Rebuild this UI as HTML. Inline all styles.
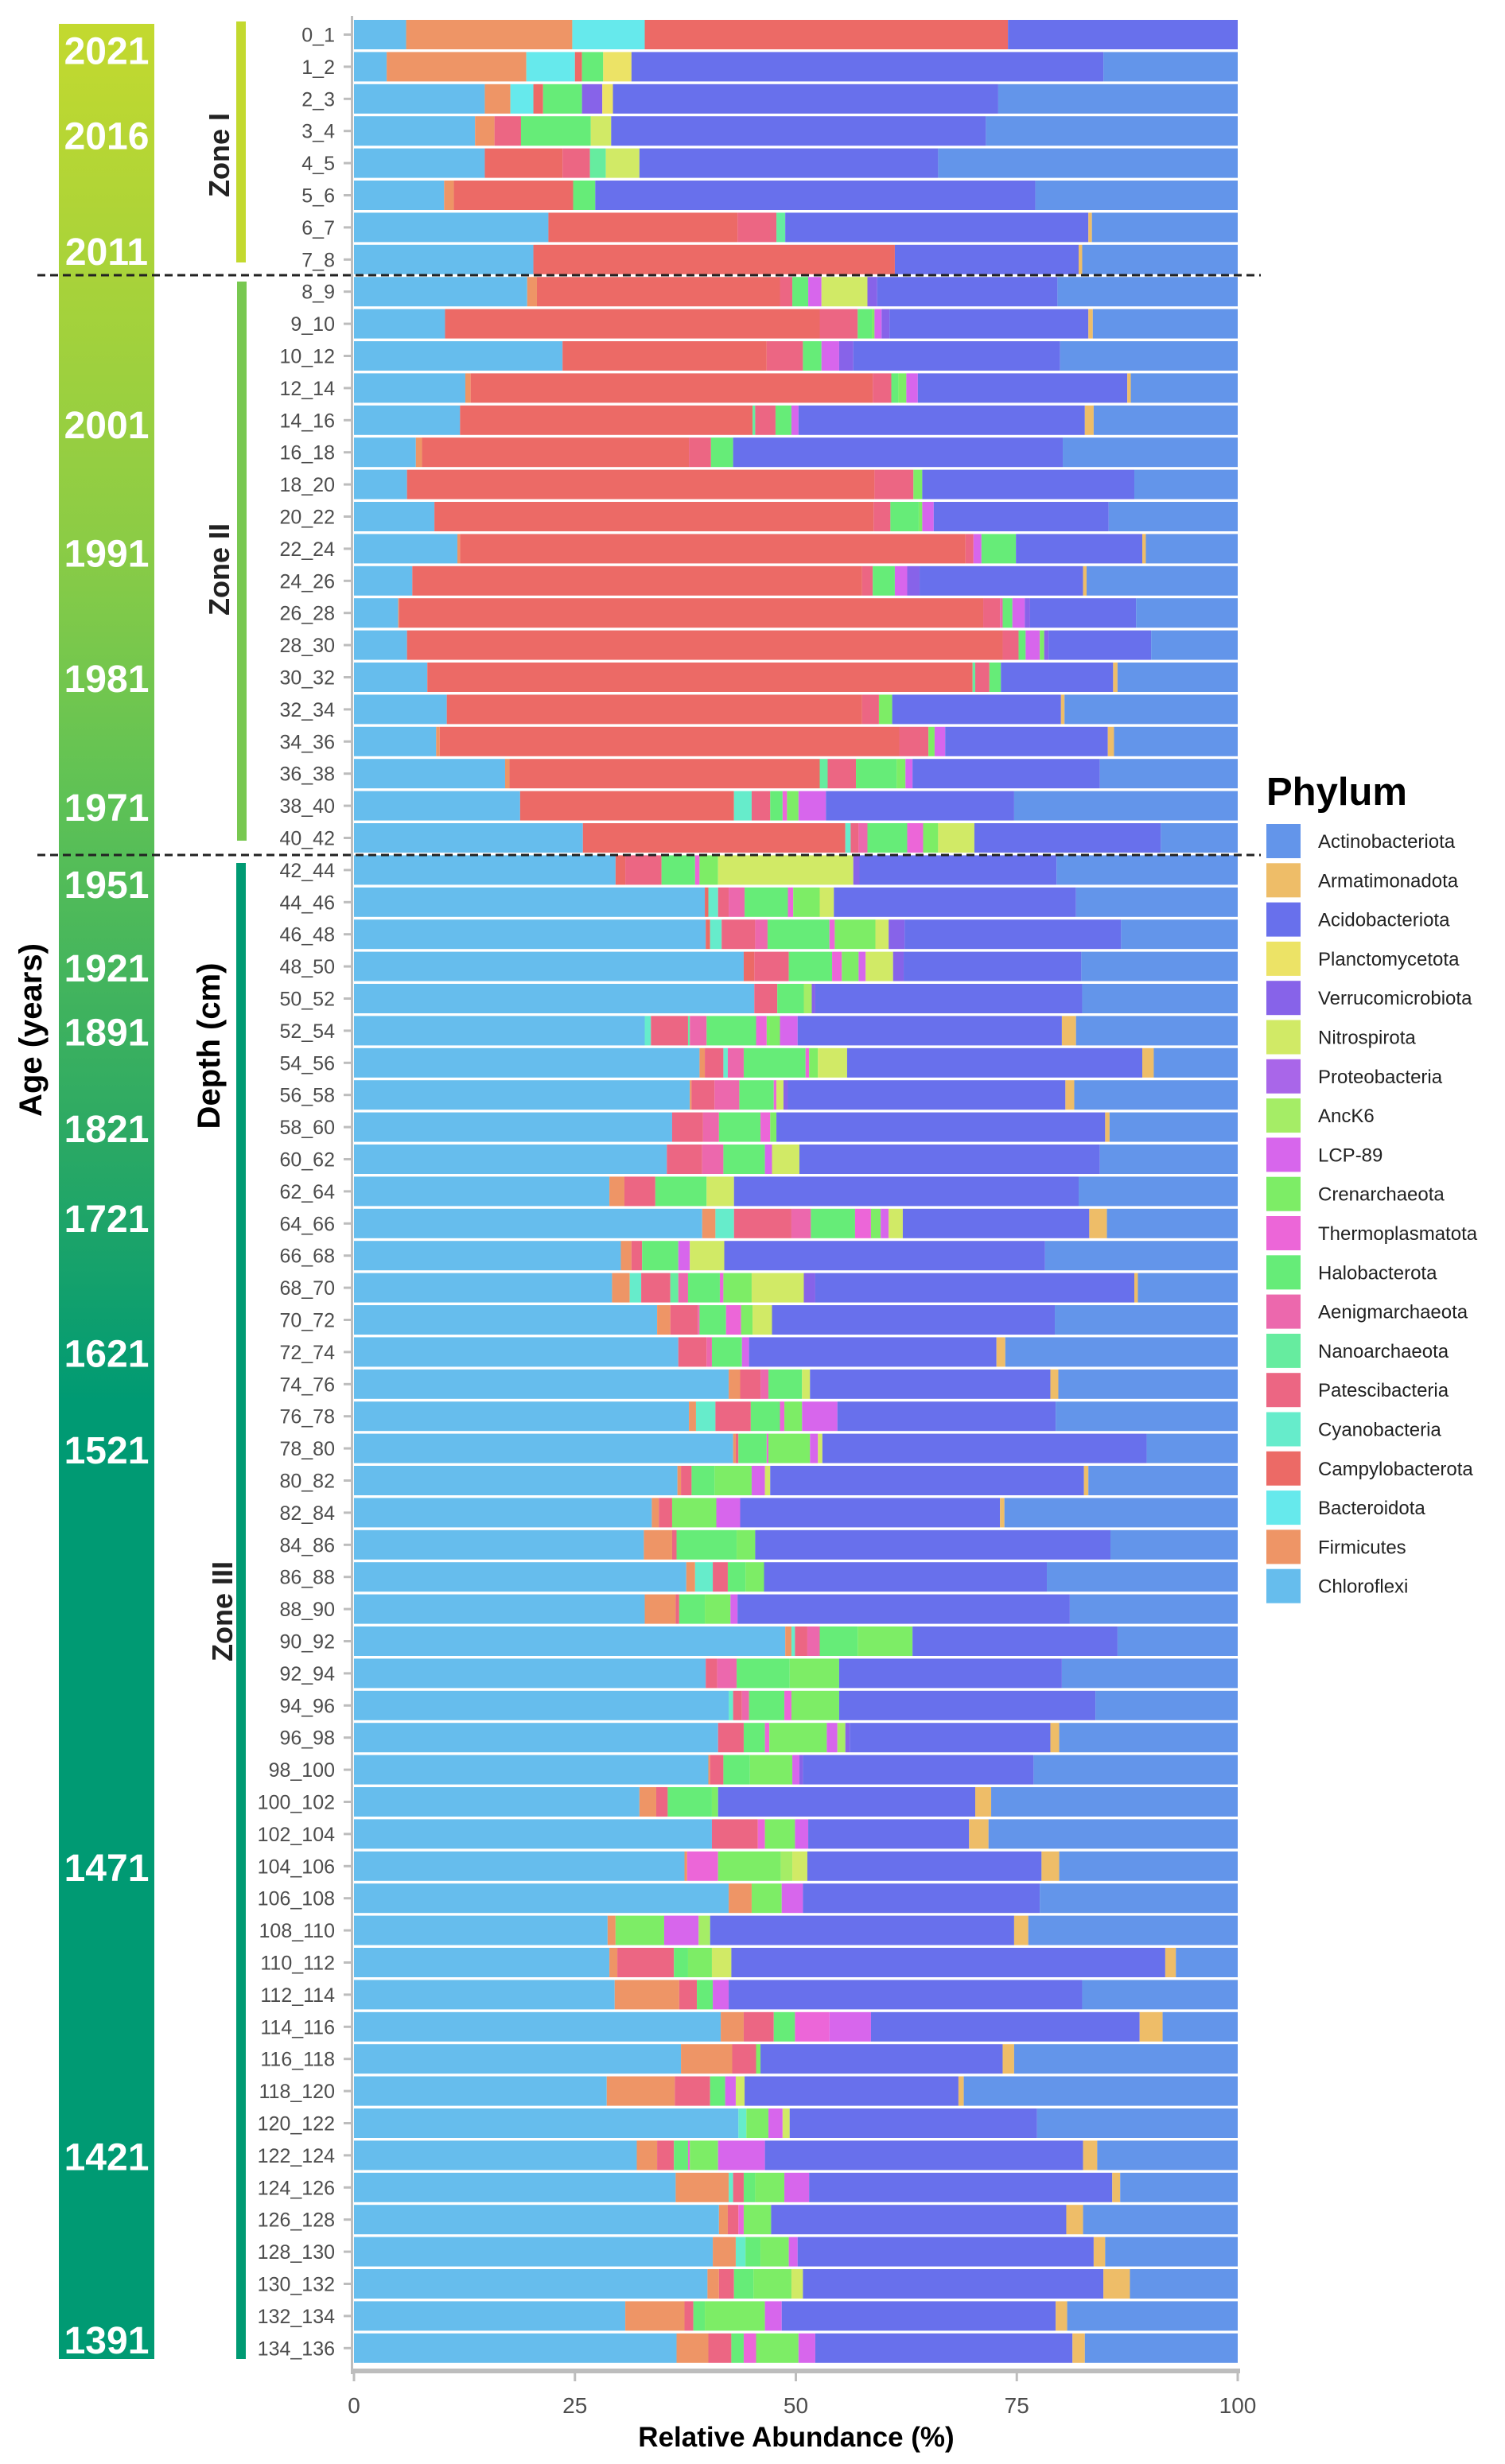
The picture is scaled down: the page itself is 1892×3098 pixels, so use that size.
<!DOCTYPE html>
<html><head><meta charset="utf-8"><style>
html,body{margin:0;padding:0;background:#fff;}
svg{display:block;font-family:"Liberation Sans",sans-serif;}
</style></head><body>
<svg id="chart" width="1892" height="3098" viewBox="0 0 1892 3098" xmlns="http://www.w3.org/2000/svg">
<defs>
<linearGradient id="ageGrad" x1="0" y1="30" x2="0" y2="2966" gradientUnits="userSpaceOnUse">
<stop offset="0" stop-color="#c3d92f"/>
<stop offset="0.22" stop-color="#8ccc45"/>
<stop offset="0.33" stop-color="#5fc255"/>
<stop offset="0.47" stop-color="#2eaa63"/>
<stop offset="0.59" stop-color="#009a73"/>
<stop offset="1" stop-color="#009a73"/>
</linearGradient>
</defs>
<rect x="74" y="30" width="120" height="2936" fill="url(#ageGrad)"/>
<g id="ageLabels"></g>
<text transform="translate(52,1295) rotate(-90)" text-anchor="middle" font-size="40" font-weight="bold" fill="#000">Age (years)</text>
<text transform="translate(276,1315) rotate(-90)" text-anchor="middle" font-size="40" font-weight="bold" fill="#000">Depth (cm)</text>
<rect x="297" y="27" width="12" height="303" fill="#c3d92f"/>
<rect x="298" y="354" width="12" height="703" fill="#78c850"/>
<rect x="297" y="1085" width="12" height="1881" fill="#009a73"/>
<text transform="translate(288,195) rotate(-90)" text-anchor="middle" font-size="36" font-weight="bold" fill="#222">Zone I</text>
<text transform="translate(288,716) rotate(-90)" text-anchor="middle" font-size="36" font-weight="bold" fill="#222">Zone II</text>
<text transform="translate(292,2026) rotate(-90)" text-anchor="middle" font-size="36" font-weight="bold" fill="#222">Zone III</text>
<g id="bars"></g>
<g id="yaxis"></g>
<g id="xaxis"></g>
<line x1="47" y1="346" x2="1585" y2="346" stroke="#222" stroke-width="3" stroke-dasharray="10,6"/>
<line x1="47" y1="1075" x2="1585" y2="1075" stroke="#222" stroke-width="3" stroke-dasharray="10,6"/>
<text x="1001" y="3076" text-anchor="middle" font-size="35" font-weight="bold" fill="#000">Relative Abundance (%)</text>
<g id="legend"></g>
</svg>
<script>
const phyla = ["Chloroflexi","Firmicutes","Bacteroidota","Campylobacterota","Cyanobacteria","Patescibacteria","Nanoarchaeota","Aenigmarchaeota","Halobacterota","Thermoplasmatota","Crenarchaeota","LCP-89","AncK6","Proteobacteria","Nitrospirota","Verrucomicrobiota","Planctomycetota","Acidobacteriota","Armatimonadota","Actinobacteriota"];
const codes = ["Chl","Fir","Bac","Cam","Cya","Pat","Nan","Aen","Hal","The","Cre","LCP","Anc","Pro","Nit","Ver","Pla","Aci","Arm","Act"];
const colors = ["#66bded","#ee9566","#66e9ec","#ec6a66","#66eccb","#ec6683","#66ec9f","#ec68ad","#66ec78","#ec66d8","#7ded66","#d766ec","#a5ed66","#a966e9","#d1ea66","#8763e9","#ece366","#6870ec","#eebd68","#6395ea"];
const depths = ["0_1","1_2","2_3","3_4","4_5","5_6","6_7","7_8","8_9","9_10","10_12","12_14","14_16","16_18","18_20","20_22","22_24","24_26","26_28","28_30","30_32","32_34","34_36","36_38","38_40","40_42","42_44","44_46","46_48","48_50","50_52","52_54","54_56","56_58","58_60","60_62","62_64","64_66","66_68","68_70","70_72","72_74","74_76","76_78","78_80","80_82","82_84","84_86","86_88","88_90","90_92","92_94","94_96","96_98","98_100","100_102","102_104","104_106","106_108","108_110","110_112","112_114","114_116","116_118","118_120","120_122","122_124","124_126","126_128","128_130","130_132","132_134","134_136"];
// cumulative right edge (%) of each phylum segment, per sample
const cumulative = [
"Chl:5.9 Fir:24.7 Bac:32.9 Cam:74.0 Aci:100",
"Chl:3.7 Fir:19.5 Bac:25.0 Cam:25.8 Hal:28.2 Pla:31.4 Aci:84.8 Act:100",
"Chl:14.8 Fir:17.7 Bac:20.3 Cam:21.4 Hal:25.8 Ver:28.1 Pla:29.3 Aci:72.9 Act:100",
"Chl:13.7 Fir:15.9 Pat:18.9 Hal:26.8 Nit:29.1 Aci:71.5 Act:100",
"Chl:14.8 Cam:23.6 Pat:26.7 Nan:28.5 Nit:32.3 Aci:66.1 Act:100",
"Chl:10.2 Fir:11.3 Cam:24.8 Hal:27.3 Aci:77.1 Act:100",
"Chl:22.0 Cam:43.4 Pat:47.8 Nan:48.8 Aci:83.1 Arm:83.5 Act:100",
"Chl:20.3 Cam:61.2 Aci:82.0 Arm:82.4 Act:100",
"Chl:19.6 Fir:20.7 Cam:48.2 Pat:49.6 Hal:51.4 LCP:52.9 Nit:58.1 Ver:59.2 Aci:79.6 Act:100",
"Chl:10.3 Cam:52.7 Pat:57.0 Hal:58.6 Cre:58.9 LCP:59.7 Ver:60.6 Aci:83.1 Arm:83.6 Act:100",
"Chl:23.6 Cam:46.7 Pat:50.8 Hal:52.9 LCP:54.9 Ver:56.5 Aci:79.9 Act:100",
"Chl:12.6 Fir:13.2 Cam:58.7 Pat:60.8 Hal:61.6 Cre:62.5 LCP:63.8 Aci:87.5 Arm:87.9 Act:100",
"Chl:12.0 Cam:45.1 Nan:45.4 Pat:47.7 Hal:49.5 LCP:50.3 Aci:82.7 Arm:83.7 Act:100",
"Chl:7.0 Fir:7.7 Cam:37.9 Pat:40.4 Hal:42.9 Aci:80.2 Act:100",
"Chl:6.0 Cam:58.9 Pat:63.3 Cre:64.3 Aci:88.3 Act:100",
"Chl:9.1 Cam:58.8 Pat:60.7 Hal:63.9 Cre:64.3 LCP:65.6 Aci:85.4 Act:100",
"Chl:11.7 Fir:12.0 Cam:69.2 Pat:70.1 LCP:71.0 Hal:74.9 Aci:89.2 Arm:89.6 Act:100",
"Chl:6.6 Cam:57.5 Pat:58.7 Hal:61.2 LCP:62.6 Ver:64.0 Aci:82.5 Arm:82.9 Act:100",
"Chl:5.0 Fir:5.1 Cam:71.2 Pat:73.1 Aen:73.4 Hal:74.5 LCP:75.9 Ver:76.5 Aci:88.5 Act:100",
"Chl:6.0 Cam:73.4 Pat:75.2 Hal:76.0 LCP:77.6 Cre:78.1 Ver:78.6 Aci:90.2 Act:100",
"Chl:8.3 Cam:70.0 Nan:70.3 Pat:71.9 Hal:73.2 Aci:85.9 Arm:86.4 Act:100",
"Chl:10.5 Cam:57.5 Pat:59.4 Cre:60.9 Aci:80.0 Arm:80.4 Act:100",
"Chl:9.3 Fir:9.7 Cam:61.7 Pat:65.0 Cre:65.7 LCP:66.9 Aci:85.3 Arm:86.0 Act:100",
"Chl:17.1 Fir:17.6 Cam:52.7 Nan:53.6 Pat:56.8 Hal:61.4 Cre:62.4 LCP:63.2 Aci:84.4 Act:100",
"Chl:18.8 Cam:43.0 Cya:45.0 Pat:47.1 Hal:48.5 The:49.0 Cre:50.3 LCP:53.4 Aci:74.7 Act:100",
"Chl:25.9 Cam:55.6 Cya:56.2 Pat:57.1 Aen:58.1 Hal:62.6 The:64.4 Cre:66.1 Nit:70.2 Aci:91.3 Act:100",
"Chl:29.6 Cam:30.7 Pat:34.8 Hal:38.6 The:39.1 Cre:41.2 Nit:56.5 Ver:57.2 Aci:79.5 Act:100",
"Chl:39.7 Cam:40.1 Cya:41.2 Pat:42.4 Aen:44.2 Hal:49.1 The:49.7 Cre:52.7 Nit:54.3 Aci:81.7 Act:100",
"Chl:39.8 Cam:40.3 Cya:41.6 Pat:45.4 Aen:46.8 Hal:53.8 The:54.4 Cre:59.0 Nit:60.5 Ver:62.3 Aci:86.8 Act:100",
"Chl:44.1 Cam:45.3 Pat:49.2 Hal:54.1 The:55.2 Cre:57.1 LCP:57.9 Nit:61.0 Ver:62.2 Aci:82.3 Act:100",
"Chl:45.3 Pat:47.9 Hal:50.9 Anc:51.8 Ver:52.2 Aci:82.4 Act:100",
"Chl:32.9 Cya:33.6 Pat:37.8 Nan:38.0 Aen:39.9 Hal:45.5 The:46.7 Cre:48.2 LCP:50.2 Aci:80.1 Arm:81.7 Act:100",
"Chl:39.1 Fir:39.7 Pat:41.8 Cya:42.3 Aen:44.1 Hal:51.1 The:51.5 Cre:52.5 Nit:55.8 Aci:89.2 Arm:90.5 Act:100",
"Chl:38.0 Fir:38.2 Pat:40.8 Aen:43.6 Hal:47.5 The:47.8 Nit:48.6 Ver:49.1 Aci:80.5 Arm:81.5 Act:100",
"Chl:36.0 Pat:39.5 Aen:41.3 Hal:46.0 The:47.1 Cre:47.8 Aci:85.0 Arm:85.5 Act:100",
"Chl:35.4 Pat:39.4 Aen:41.8 Hal:46.5 LCP:47.3 Nit:50.4 Aci:84.4 Act:100",
"Chl:28.9 Fir:30.6 Pat:34.1 Hal:39.9 Nit:43.0 Aci:82.0 Act:100",
"Chl:39.4 Fir:40.9 Cya:43.0 Pat:49.5 Aen:51.7 Hal:56.7 The:58.5 Cre:59.6 LCP:60.5 Nit:62.1 Aci:83.2 Arm:85.2 Act:100",
"Chl:30.2 Fir:31.4 Pat:32.6 Hal:36.7 LCP:38.0 Nit:41.9 Aci:78.2 Act:100",
"Chl:29.2 Fir:31.2 Cya:32.5 Pat:35.8 Nan:36.7 Aen:37.8 Hal:41.4 The:41.8 Cre:45.0 Nit:50.9 Ver:52.2 Aci:88.3 Arm:88.7 Act:100",
"Chl:34.3 Fir:35.8 Pat:38.9 Aen:39.1 Hal:42.1 The:43.8 Cre:45.1 Nit:47.3 Aci:79.3 Act:100",
"Chl:36.7 Pat:39.9 Aen:40.5 Hal:43.9 LCP:44.7 Aci:72.7 Arm:73.7 Act:100",
"Chl:42.4 Fir:43.7 Pat:46.0 Aen:46.9 Hal:50.7 Nit:51.6 Aci:78.8 Arm:79.7 Act:100",
"Chl:37.9 Fir:38.7 Cya:40.9 Pat:44.9 Hal:48.2 The:48.7 Cre:50.7 LCP:54.7 Aci:79.4 Act:100",
"Chl:42.9 Fir:43.2 Pat:43.5 Hal:46.7 The:46.9 Cre:51.6 LCP:52.5 Nit:53.0 Aci:89.7 Act:100",
"Chl:36.6 Fir:37.0 Pat:38.2 Hal:40.8 Cre:45.0 LCP:46.5 Nit:47.1 Aci:82.6 Arm:83.1 Act:100",
"Chl:33.7 Fir:34.5 Pat:36.0 Cre:41.0 LCP:43.7 Aci:73.1 Arm:73.6 Act:100",
"Chl:32.8 Fir:36.0 Pat:36.5 Hal:43.3 Cre:45.4 Aci:85.6 Act:100",
"Chl:37.6 Fir:38.6 Cya:40.6 Pat:42.3 Hal:44.3 Cre:46.4 Aci:78.4 Act:100",
"Chl:32.9 Fir:36.4 Pat:36.8 Hal:39.7 Cre:42.6 LCP:43.4 Aci:81.0 Act:100",
"Chl:48.8 Fir:49.5 Cya:49.9 Pat:51.3 Aen:52.7 Hal:57.0 Cre:63.2 Aci:86.4 Act:100",
"Chl:39.8 Pat:41.1 Aen:43.3 Hal:49.3 Cre:54.9 Aci:80.1 Act:100",
"Chl:42.4 Cya:42.9 Pat:43.9 Aen:44.7 Hal:48.7 The:49.5 Cre:54.9 Aci:83.9 Act:100",
"Chl:41.2 Pat:44.1 Hal:46.5 The:47.0 Cre:53.5 LCP:54.7 Anc:55.6 Ver:56.1 Aci:78.8 Arm:79.8 Act:100",
"Chl:40.1 Fir:40.3 Pat:41.8 Hal:44.8 Cre:49.6 LCP:50.4 Ver:50.8 Aci:76.9 Act:100",
"Chl:32.3 Fir:34.2 Pat:35.5 Hal:40.5 Cre:41.2 Aci:70.3 Arm:72.1 Act:100",
"Chl:40.5 Pat:45.7 The:46.5 Cre:49.9 LCP:51.4 Aci:69.6 Arm:71.8 Act:100",
"Chl:37.4 Fir:37.7 The:41.2 Cre:48.3 Anc:49.6 Nit:51.3 Aci:77.8 Arm:79.8 Act:100",
"Chl:42.4 Fir:45.0 Cre:48.4 LCP:50.8 Aci:77.6 Act:100",
"Chl:28.7 Fir:29.6 Cre:35.1 LCP:39.0 Anc:40.3 Aci:74.7 Arm:76.3 Act:100",
"Chl:28.9 Fir:29.8 Pat:36.2 Hal:37.8 Cre:40.5 Nit:42.7 Aci:91.8 Arm:93.0 Act:100",
"Chl:29.5 Fir:36.8 Pat:38.8 Hal:40.6 LCP:42.4 Aci:82.4 Act:100",
"Chl:41.5 Fir:44.1 Pat:47.5 Hal:49.9 The:53.8 LCP:58.5 Aci:88.9 Arm:91.5 Act:100",
"Chl:37.0 Fir:42.8 Pat:45.5 Cre:46.0 Aci:73.4 Arm:74.7 Act:100",
"Chl:28.6 Fir:36.3 Pat:40.3 Hal:42.0 LCP:43.2 Nit:44.2 Aci:68.4 Arm:69.0 Act:100",
"Chl:43.5 Cya:44.4 Cre:46.9 LCP:48.5 Nit:49.3 Aci:77.3 Act:100",
"Chl:32.0 Fir:34.3 Pat:36.2 Hal:37.8 The:38.0 Cre:41.2 LCP:46.5 Aci:82.5 Arm:84.1 Act:100",
"Chl:36.4 Fir:42.4 Cya:42.9 Pat:44.1 Hal:45.4 Cre:48.7 LCP:51.5 Aci:85.8 Arm:86.7 Act:100",
"Chl:41.3 Fir:42.3 Pat:43.5 The:44.1 Cre:47.2 Aci:80.6 Arm:82.5 Act:100",
"Chl:40.6 Fir:43.2 Cya:44.3 Hal:46.0 Cre:49.2 LCP:50.2 Aci:83.7 Arm:85.0 Act:100",
"Chl:40.0 Fir:41.3 Pat:43.0 Hal:45.2 Cre:49.5 Nit:50.8 Aci:84.8 Arm:87.8 Act:100",
"Chl:30.7 Fir:37.4 Pat:38.4 Hal:39.7 Cre:46.5 LCP:48.4 Aci:79.4 Arm:80.7 Act:100",
"Chl:36.5 Fir:40.1 Pat:42.7 Hal:44.1 The:45.5 Cre:50.3 LCP:52.2 Aci:81.3 Arm:82.7 Act:100"
];
const ageYears = ["2021","2016","2011","2001","1991","1981","1971","1951","1921","1891","1821","1721","1621","1521","1471","1421","1391"];
const ageRowPos = [0.95,3.6,7.2,12.6,16.6,20.5,24.5,26.9,29.5,31.5,34.5,37.3,41.5,44.5,57.5,66.5,72.2];
const xTicks = [0,25,50,75,100];

const NS = "http://www.w3.org/2000/svg";
const X0 = 445, X1 = 1556, ROW0 = 25, PITCH = 40.4, BARH = 37;
function xScale(p){ return X0 + (X1 - X0) * p / 100; }
function yScale(i){ return ROW0 + i * PITCH; }
function mk(tag, attrs, parent){ const e = document.createElementNS(NS, tag); for (const k in attrs) e.setAttribute(k, attrs[k]); parent.appendChild(e); return e; }

const bars = document.getElementById("bars");
cumulative.forEach((row, i) => {
  const g = mk("g", {}, bars);
  
  
  let prev = 0;
  row.split(" ").forEach(tok => {
    const [c, v] = tok.split(":");
    const end = parseFloat(v);
    const k = codes.indexOf(c);
    const r = mk("rect", {x: xScale(prev), y: yScale(i), width: Math.max(0, xScale(end) - xScale(prev)), height: BARH, fill: colors[k]}, g);
    
    
    prev = end;
  });
});

const yaxis = document.getElementById("yaxis");
const axl = mk("rect", {x: 441, y: 20, width: 3, height: 2965, fill: "#bdbdbd"}, yaxis);


depths.forEach((d, i) => {
  const cy = yScale(i) + BARH / 2;
  const t = mk("rect", {x: 432, y: cy - 1.5, width: 10, height: 3, fill: "#bdbdbd"}, yaxis);
  
  
  const lb = mk("text", {x: 421, y: cy + 9, "text-anchor": "end", "font-size": 25, fill: "#4d4d4d"}, yaxis);
  
  
  lb.textContent = d;
});

const xaxis = document.getElementById("xaxis");
const xl = mk("rect", {x: X0 - 3, y: 2978, width: X1 - X0 + 6, height: 6, fill: "#bdbdbd"}, xaxis);


xTicks.forEach(v => {
  const tk = mk("rect", {x: xScale(v) - 1.5, y: 2980, width: 3, height: 14, fill: "#bdbdbd"}, xaxis);
  
  
  const tl = mk("text", {x: xScale(v), y: 3034, "text-anchor": "middle", "font-size": 28, fill: "#4d4d4d"}, xaxis);
  
  
  tl.textContent = v;
});

const ageG = document.getElementById("ageLabels");
ageYears.forEach((yr, i) => {
  const t = mk("text", {x: 134, y: yScale(ageRowPos[i]) + 17, "text-anchor": "middle", "font-size": 48, "font-weight": "bold", fill: "#fff"}, ageG);
  
  
  t.textContent = yr;
});

const leg = document.getElementById("legend");
const lt = mk("text", {x: 1592, y: 1012, "font-size": 49, "font-weight": "bold", fill: "#000"}, leg);


lt.textContent = "Phylum";
for (let j = 0; j < phyla.length; j++) {
  const k = phyla.length - 1 - j;
  const y = 1036 + j * 49.3;
  const g = mk("g", {}, leg);
  
  
  mk("rect", {x: 1592, y: y, width: 43, height: 43, fill: colors[k]}, g);
  const tx = mk("text", {x: 1657, y: y + 30, "font-size": 24, fill: "#222"}, g);
  tx.textContent = phyla[k];
}
</script>
</body></html>
